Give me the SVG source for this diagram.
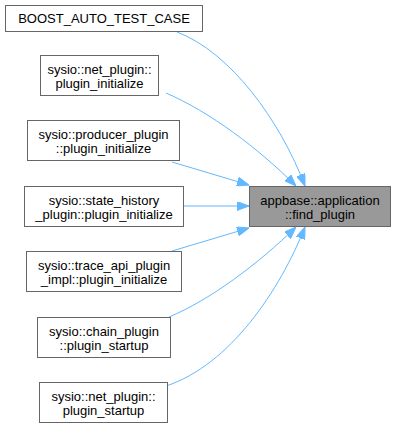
<svg xmlns="http://www.w3.org/2000/svg" width="395" height="428" viewBox="0 0 395 428">
  <style>
    .node rect { fill: #ffffff; stroke: #666666; stroke-width: 1; }
    .node.target rect { fill: #999999; }
    .node text { font-family: "Liberation Sans", Arial, sans-serif; font-size: 13px; fill: #000000; text-anchor: middle; }
    .edges path { fill: none; stroke: #63b8ff; stroke-width: 1; }
  </style>
  <defs>
    <marker id="arrow" markerUnits="userSpaceOnUse" markerWidth="12" markerHeight="9" refX="12" refY="4.5" orient="auto">
      <path d="M0,0 L12,4.5 L0,9 z" fill="#63b8ff" stroke="#63b8ff" stroke-width="1"/>
    </marker>
  </defs>
  <rect width="395" height="428" fill="#ffffff"/>

  <g class="edges">
    <path marker-end="url(#arrow)" d="M177,32 C230,52 280,120 305,186"/>
    <path marker-end="url(#arrow)" d="M166,93 C210,112 258,148 296,186"/>
    <path marker-end="url(#arrow)" d="M172,162 L249,185"/>
    <path marker-end="url(#arrow)" d="M183,206 L249,206"/>
    <path marker-end="url(#arrow)" d="M172,251 L249,228"/>
    <path marker-end="url(#arrow)" d="M169,317 C210,300 258,264 296,227"/>
    <path marker-end="url(#arrow)" d="M166,386 C230,365 280,290 305,227"/>
  </g>

  <g id="node1" class="node target">
    <rect x="249.5" y="186.5" width="141" height="40"/>
    <text x="320" y="205">appbase::application</text>
    <text x="320" y="219">::find_plugin</text>
  </g>
  <g id="node2" class="node">
    <rect x="5.5" y="5.5" width="197" height="26"/>
    <text x="104" y="23">BOOST_AUTO_TEST_CASE</text>
  </g>
  <g id="node3" class="node">
    <rect x="40.5" y="55.5" width="118" height="40"/>
    <text x="99.5" y="74">sysio::net_plugin::</text>
    <text x="99.5" y="88">plugin_initialize</text>
  </g>
  <g id="node4" class="node">
    <rect x="27.5" y="120.5" width="152" height="40"/>
    <text x="103.5" y="139">sysio::producer_plugin</text>
    <text x="103.5" y="153">::plugin_initialize</text>
  </g>
  <g id="node5" class="node">
    <rect x="24.5" y="186.5" width="159" height="40"/>
    <text x="104" y="205">sysio::state_history</text>
    <text x="104" y="219">_plugin::plugin_initialize</text>
  </g>
  <g id="node6" class="node">
    <rect x="26.5" y="251.5" width="155" height="40"/>
    <text x="104" y="270">sysio::trace_api_plugin</text>
    <text x="104" y="284">_impl::plugin_initialize</text>
  </g>
  <g id="node7" class="node">
    <rect x="37.5" y="317.5" width="133" height="40"/>
    <text x="104" y="336">sysio::chain_plugin</text>
    <text x="104" y="350">::plugin_startup</text>
  </g>
  <g id="node8" class="node">
    <rect x="39.5" y="382.5" width="128" height="40"/>
    <text x="103.5" y="401">sysio::net_plugin::</text>
    <text x="103.5" y="415">plugin_startup</text>
  </g>
</svg>
